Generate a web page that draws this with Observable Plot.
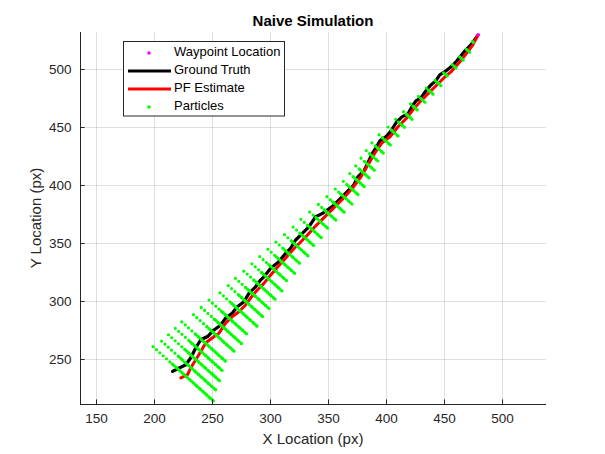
<!DOCTYPE html>
<html><head><meta charset="utf-8">
<script src="https://cdn.jsdelivr.net/npm/d3@7"></script>
<script src="https://cdn.jsdelivr.net/npm/@observablehq/plot@0.6"></script>
<style>
html,body{margin:0;padding:0;background:#fff;overflow:hidden}
svg{display:block}
</style>
</head><body><div id="chart"></div>
<script>
// Ground truth path
const truthX = [215.6,221.3,227.0,231.3,235.6,239.9,245.7,251.3,257.1,261.4,267.1,271.4,277.1,281.4,287.1,291.4,294.3,300.0,307.1,312.9,317.2,321.5,327.2,332.9,338.6,344.4,354.3,362.9,371.5,375.5,380.7,384.1,387.6,391.0,394.4,399.6,403.9,408.2,413.3,418.5,421.9,425.3,429.6,433.9,438.2,442.5,445.9,451.1,455.4,460.5,467.4,473.1,478.8];
const truthY = [239.7,242.7,245.5,251.5,260.1,267.0,269.8,275.5,279.8,285.8,290.1,295.5,299.8,307.0,312.7,318.5,321.3,328.5,334.2,341.4,345.7,352.8,358.5,364.2,372.8,375.7,382.8,391.4,400.0,407.7,412.9,419.8,427.5,432.6,438.7,442.1,447.2,454.1,459.2,461.8,467.8,473.0,475.5,481.6,486.7,490.2,495.3,498.7,502.1,507.3,515.9,521.6,529.6];
// PF estimate path
const estX = [222.7,228.5,231.3,235.6,239.9,244.2,250.0,255.6,261.4,267.1,272.8,278.5,282.8,288.6,294.3,300.0,306.9,312.9,318.9,325.8,330.9,337.8,344.6,353.2,361.8,370.4,378.1,384.1,390.1,396.2,403.0,409.9,416.8,422.8,428.8,435.6,442.5,449.4,456.2,463.1,469.1,474.3,478.8];
const estY = [234.1,236.9,242.9,249.8,256.9,264.4,268.7,272.7,281.5,287.0,291.2,297.0,303.0,309.9,315.6,322.7,330.5,337.3,344.2,351.1,356.2,364.0,370.8,379.4,388.0,397.4,407.7,418.0,428.3,436.9,442.0,450.6,457.5,465.2,472.1,479.0,485.8,492.7,498.7,506.4,514.2,521.0,529.6];
// Waypoint
const waypointX = [479.0];
const waypointY = [530.0];
// Particle clouds: one streak per time step (centre and half spread)
const particleX = [226.6,231.4,235.7,240.0,244.0,253.2,259.1,265.0,273.6,279.9,285.3,291.7,297.8,303.8,310.0,316.1,322.7,329.7,336.0,342.8,349.8,356.8,363.6,370.1,375.3,380.0,384.1,388.2,392.7,398.8,406.2,412.3,418.7,424.4,430.7,437.6,444.7,451.7,459.2,465.1,470.5,475.3];
const particleY = [236,243,250,257,264,271,278,285,292,299,306,313,320,327,334,341,348,355,362,369,376,383,390,397,404,411,418,425,432,439,446,453,460,467,474,481,488,495,502,509,516,523];
const particleSpread = [34,31,29,27,25,24,23,22,21,20,19,18,17,16,15,14,13,12.5,12,11,10.5,10,9.5,9,8.5,8,7.5,7,6.5,6.5,6,5.5,5,4.5,4,4,3.5,3,3,2.5,2,1.5];
// Streak orientation (unit vector, toward lower right)
const streakDir = [0.743, -0.669];
// Axes
const xTicks = [150,200,250,300,350,400,450,500];
const yTicks = [250,300,350,400,450,500];
const xLimits = [136.2, 537.9];
const yLimits = [211.2, 531.9];

const truth = truthX.map((x,i)=>({x, y: truthY[i]}));
const est = estX.map((x,i)=>({x, y: estY[i]}));
const way = waypointX.map((x,i)=>({x, y: waypointY[i]}));
const parts = particleX.map((x,i)=>({x, y: particleY[i], h: particleSpread[i]}));
const [ux, uy] = streakDir;

const FONT = "'Liberation Sans', Arial, Helvetica, sans-serif";
const AX = "#262626";

const svg = Plot.plot({
  width: 605, height: 454,
  marginLeft: 80, marginRight: 59, marginTop: 32, marginBottom: 50,
  x: {domain: xLimits},
  y: {domain: yLimits},
  style: {fontFamily: FONT, fontSize: "13.5px", color: AX, background: "#fff", overflow: "visible"},
  marks: [
    Plot.gridX(xTicks, {stroke: AX, strokeOpacity: 0.15, strokeWidth: 1}),
    Plot.gridY(yTicks, {stroke: AX, strokeOpacity: 0.15, strokeWidth: 1}),
    Plot.line(truth, {x: "x", y: "y", stroke: "#000", strokeWidth: 3.2, strokeLinejoin: "round"}),
    Plot.line(est, {x: "x", y: "y", stroke: "#ff0000", strokeWidth: 3, strokeLinejoin: "round"}),
    // sparse outer particles
    Plot.link(parts, {
      x1: d => d.x - 1.1 * d.h * ux, y1: d => d.y - 1.1 * d.h * uy,
      x2: d => d.x + d.h * ux, y2: d => d.y + d.h * uy,
      stroke: "#00ff00", strokeWidth: 3.2, strokeLinecap: "round", strokeDasharray: "0 4.5", clip: true
    }),
    // dense core of particles
    Plot.link(parts, {
      x1: d => d.x - 0.45 * d.h * ux, y1: d => d.y - 0.45 * d.h * uy,
      x2: d => d.x + 0.95 * d.h * ux, y2: d => d.y + 0.95 * d.h * uy,
      stroke: "#00ff00", strokeWidth: 3.2, strokeLinecap: "round", strokeDasharray: "0 2.6", clip: true
    }),
    Plot.dot(way, {x: "x", y: "y", r: 1.8, fill: "#ff00ff", stroke: "none"}),
    // axis lines
    Plot.ruleX([xLimits[0]], {stroke: AX, strokeWidth: 1}),
    Plot.ruleY([yLimits[0]], {stroke: AX, strokeWidth: 1}),
    // inward tick marks
    Plot.ruleX(xTicks, {x: d => d, y1: yLimits[0], y2: yLimits[0] + 4, stroke: AX}),
    Plot.ruleY(yTicks, {y: d => d, x1: xLimits[0], x2: xLimits[0] + 4, stroke: AX}),
    Plot.axisX(xTicks, {tickSize: 0, tickPadding: 9, label: null, fill: AX}),
    Plot.axisY(yTicks, {tickSize: 0, tickPadding: 9, label: null, fill: AX})
  ]
});

const s = d3.select(svg);
s.append("text").attr("x", 313).attr("y", 22).attr("text-anchor", "middle").attr("dominant-baseline", "middle")
  .attr("font-family", FONT).attr("font-size", "15px").attr("font-weight", "bold").attr("fill", "#000")
  .text("Naive Simulation");
s.append("text").attr("x", 313).attr("y", 440).attr("text-anchor", "middle").attr("dominant-baseline", "middle")
  .attr("font-family", FONT).attr("font-size", "15px").attr("fill", AX).text("X Location (px)");
s.append("text").attr("transform", "translate(37,218) rotate(-90)").attr("text-anchor", "middle").attr("dominant-baseline", "middle")
  .attr("font-family", FONT).attr("font-size", "15px").attr("fill", AX).text("Y Location (px)");

// legend
const lg = s.append("g");
lg.append("rect").attr("x", 123.5).attr("y", 41.5).attr("width", 161).attr("height", 74.5)
  .attr("fill", "#fff").attr("stroke", AX).attr("stroke-width", 1);
const entries = [
  {label: "Waypoint Location", type: "dot", color: "#ff00ff"},
  {label: "Ground Truth", type: "line", color: "#000"},
  {label: "PF Estimate", type: "line", color: "#ff0000"},
  {label: "Particles", type: "dot", color: "#00ff00"}
];
entries.forEach((e, i) => {
  const y = 53 + i * 18;
  if (e.type === "line") {
    lg.append("line").attr("x1", 128).attr("x2", 171).attr("y1", y).attr("y2", y)
      .attr("stroke", e.color).attr("stroke-width", 3);
  } else {
    lg.append("circle").attr("cx", 149).attr("cy", y).attr("r", 1.8).attr("fill", e.color);
  }
  lg.append("text").attr("x", 174).attr("y", y).attr("text-anchor", "start").attr("dominant-baseline", "middle")
    .attr("font-family", FONT).attr("font-size", "13px").attr("fill", "#000").text(e.label);
});

document.getElementById("chart").appendChild(svg);
</script>
</body></html>
